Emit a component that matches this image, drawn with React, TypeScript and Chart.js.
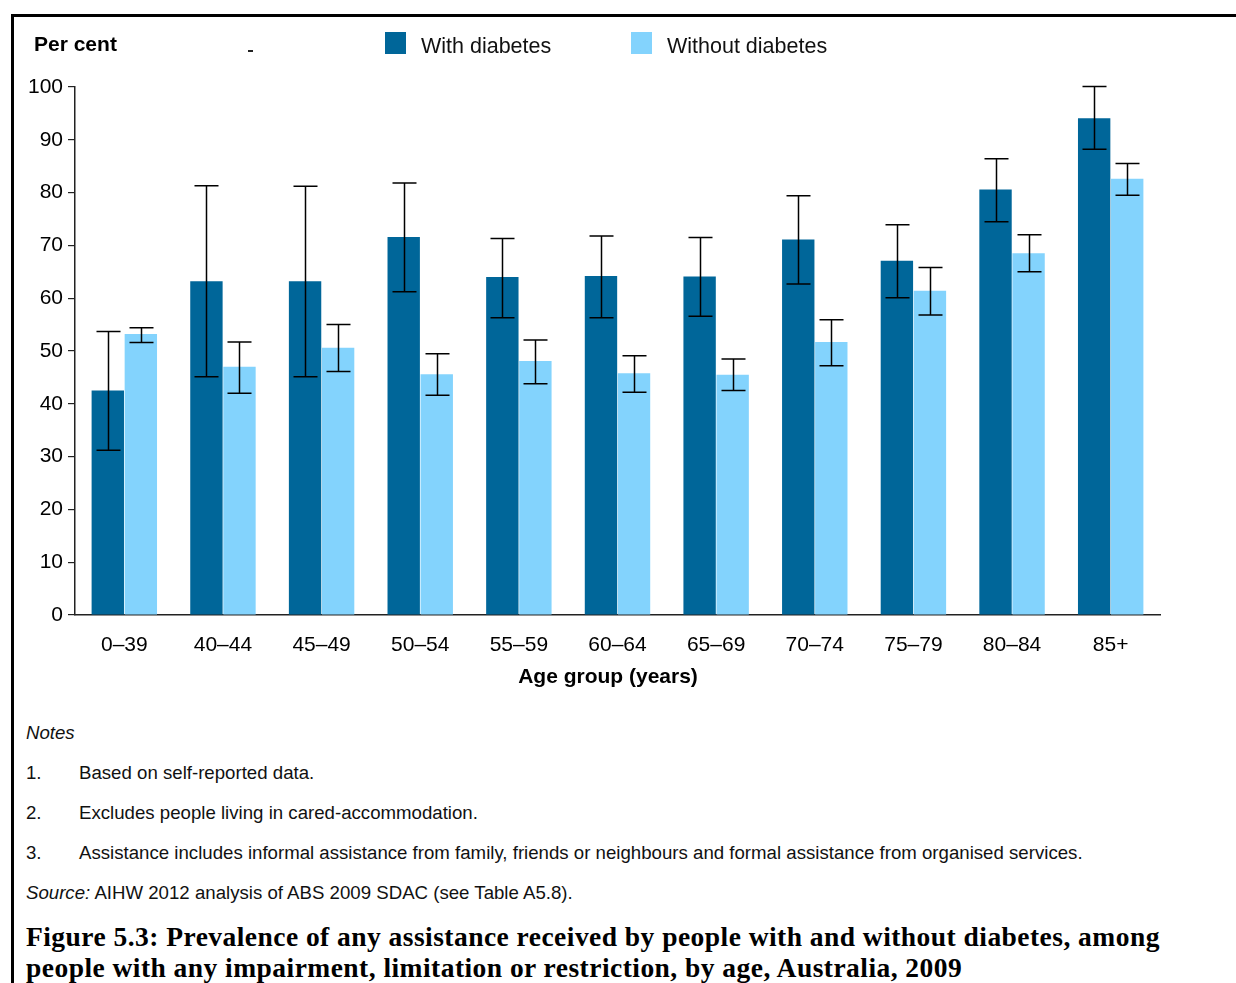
import { useEffect, useRef } from "react";
import { Chart, registerables } from "chart.js";

Chart.register(...registerables);

// Age groups on the category axis
const ageGroups = ["0–39", "40–44", "45–49", "50–54", "55–59", "60–64", "65–69", "70–74", "75–79", "80–84", "85+"];

// Per cent receiving any assistance, with 95% confidence limits
const withDiabetes = [42.5, 63.2, 63.2, 71.6, 64.0, 64.2, 64.1, 71.1, 67.1, 80.6, 94.1];
const withDiabetesLow = [31.2, 45.1, 45.1, 61.2, 56.3, 56.3, 56.6, 62.7, 60.1, 74.5, 88.2];
const withDiabetesHigh = [53.7, 81.3, 81.2, 81.8, 71.3, 71.8, 71.5, 79.4, 73.9, 86.4, 100.1];

const withoutDiabetes = [53.2, 47.0, 50.6, 45.6, 48.1, 45.8, 45.5, 51.7, 61.4, 68.5, 82.6];
const withoutDiabetesLow = [51.6, 42.0, 46.1, 41.6, 43.8, 42.2, 42.5, 47.2, 56.8, 65.0, 79.5];
const withoutDiabetesHigh = [54.4, 51.7, 55.0, 49.5, 52.1, 49.1, 48.5, 55.9, 65.8, 72.0, 85.5];

const yMin = 0;
const yMax = 100;
const yStep = 10;

const DARK = "#006699";
const LIGHT = "#83D3FD";
const SANS = "'Liberation Sans', Arial, Helvetica, sans-serif";
const SERIF = "'Liberation Serif', 'Times New Roman', serif";

const errorLows = [withDiabetesLow, withoutDiabetesLow];
const errorHighs = [withDiabetesHigh, withoutDiabetesHigh];

// Draws vertical confidence-interval whiskers on each bar
const errorBarPlugin = {
  id: "errorBars",
  afterDatasetsDraw(chart: any) {
    const { ctx } = chart;
    const y = chart.scales.y;
    chart.data.datasets.forEach((_ds: any, di: number) => {
      const meta = chart.getDatasetMeta(di);
      const lows = errorLows[di];
      const highs = errorHighs[di];
      meta.data.forEach((bar: any, i: number) => {
        const x = Math.round(bar.x) + 0.5;
        const yl = y.getPixelForValue(lows[i]);
        const yh = y.getPixelForValue(highs[i]);
        const cap = 12;
        ctx.save();
        ctx.strokeStyle = "#000";
        ctx.lineWidth = 1.5;
        ctx.beginPath();
        ctx.moveTo(x, yh);
        ctx.lineTo(x, yl);
        ctx.moveTo(x - cap, yh);
        ctx.lineTo(x + cap, yh);
        ctx.moveTo(x - cap, yl);
        ctx.lineTo(x + cap, yl);
        ctx.stroke();
        ctx.restore();
      });
    });
  },
};

function BarChart() {
  const ref = useRef<HTMLCanvasElement | null>(null);

  useEffect(() => {
    if (!ref.current) return;
    const chart = new Chart(ref.current, {
      type: "bar",
      data: {
        labels: ageGroups,
        datasets: [
          {
            label: "With diabetes",
            data: withDiabetes,
            backgroundColor: DARK,
            borderWidth: 0,
            categoryPercentage: 0.67,
            barPercentage: 0.98,
          },
          {
            label: "Without diabetes",
            data: withoutDiabetes,
            backgroundColor: LIGHT,
            borderWidth: 0,
            categoryPercentage: 0.67,
            barPercentage: 0.98,
          },
        ],
      },
      options: {
        responsive: false,
        animation: false,
        layout: { padding: { left: 0, top: 87, right: 76, bottom: 0 } },
        plugins: {
          legend: { display: false },
          tooltip: { enabled: false },
          title: { display: false },
        },
        scales: {
          x: {
            grid: { display: false, drawTicks: false },
            border: { display: true, color: "#222", width: 1.5 },
            ticks: {
              color: "#000",
              font: { family: SANS, size: 21 },
              padding: 18,
              maxRotation: 0,
              autoSkip: false,
            },
            afterFit(scale: any) {
              scale.height = 85;
            },
          },
          y: {
            min: yMin,
            max: yMax,
            grid: {
              display: true,
              drawOnChartArea: false,
              drawTicks: true,
              tickLength: 7,
              color: "#222",
              lineWidth: 1.2,
            },
            border: { display: true, color: "#222", width: 1.5 },
            ticks: {
              stepSize: yStep,
              color: "#000",
              font: { family: SANS, size: 21 },
              padding: 5,
            },
            afterFit(scale: any) {
              scale.width = 75;
            },
          },
        },
      },
      plugins: [errorBarPlugin],
    });
    return () => chart.destroy();
  }, []);

  return (
    <canvas
      ref={ref}
      width={1236}
      height={700}
      style={{ position: "absolute", left: 0, top: 0, width: 1236, height: 700 }}
    />
  );
}

const noteStyle: any = {
  position: "absolute",
  fontFamily: SANS,
  fontSize: 18.65,
  lineHeight: "22px",
  color: "#111",
  whiteSpace: "nowrap",
};

const legendText: any = {
  position: "absolute",
  top: 34,
  fontFamily: SANS,
  fontSize: 21.5,
  lineHeight: "24px",
  color: "#111",
  whiteSpace: "nowrap",
};

export default function App() {
  return (
    <div
      style={{
        position: "absolute",
        left: 0,
        top: 0,
        width: 1236,
        height: 983,
        overflow: "hidden",
        background: "#fff",
      }}
    >
      {/* frame */}
      <div style={{ position: "absolute", left: 11, top: 14, width: 1225, height: 3, background: "#000" }} />
      <div style={{ position: "absolute", left: 11, top: 14, width: 3, height: 969, background: "#000" }} />

      <BarChart />

      {/* axis caption and legend */}
      <div
        style={{
          position: "absolute",
          left: 34,
          top: 32,
          fontFamily: SANS,
          fontWeight: "bold",
          fontSize: 21,
          lineHeight: "24px",
          color: "#000",
          whiteSpace: "nowrap",
        }}
      >
        Per cent
      </div>
      <div style={{ position: "absolute", left: 248, top: 50, width: 5, height: 1.5, background: "#222" }} />

      <div style={{ position: "absolute", left: 385, top: 32, width: 21, height: 22, background: DARK }} />
      <div style={{ ...legendText, left: 421 }}>With diabetes</div>
      <div style={{ position: "absolute", left: 631, top: 32, width: 21, height: 22, background: LIGHT }} />
      <div style={{ ...legendText, left: 667 }}>Without diabetes</div>

      <div
        style={{
          position: "absolute",
          left: 408,
          width: 400,
          top: 664,
          textAlign: "center",
          fontFamily: SANS,
          fontWeight: "bold",
          fontSize: 21,
          lineHeight: "24px",
          color: "#000",
        }}
      >
        Age group (years)
      </div>

      {/* notes */}
      <div style={{ ...noteStyle, left: 26, top: 722, fontStyle: "italic" }}>Notes</div>
      <div style={{ ...noteStyle, left: 26, top: 762 }}>1.</div>
      <div style={{ ...noteStyle, left: 79, top: 762 }}>Based on self-reported data.</div>
      <div style={{ ...noteStyle, left: 26, top: 802 }}>2.</div>
      <div style={{ ...noteStyle, left: 79, top: 802 }}>Excludes people living in cared-accommodation.</div>
      <div style={{ ...noteStyle, left: 26, top: 842 }}>3.</div>
      <div style={{ ...noteStyle, left: 79, top: 842 }}>
        Assistance includes informal assistance from family, friends or neighbours and formal assistance from organised services.
      </div>
      <div style={{ ...noteStyle, left: 26, top: 882 }}>
        <i>Source:</i> AIHW 2012 analysis of ABS 2009 SDAC (see Table A5.8).
      </div>

      {/* figure caption */}
      <div
        style={{
          position: "absolute",
          left: 26,
          top: 921,
          fontFamily: SERIF,
          fontWeight: "bold",
          fontSize: 27.5,
          letterSpacing: "0.46px",
          lineHeight: "31px",
          color: "#000",
          whiteSpace: "nowrap",
        }}
      >
        Figure 5.3: Prevalence of any assistance received by people with and without diabetes, among
        <br />
        people with any impairment, limitation or restriction, by age, Australia, 2009
      </div>
    </div>
  );
}
